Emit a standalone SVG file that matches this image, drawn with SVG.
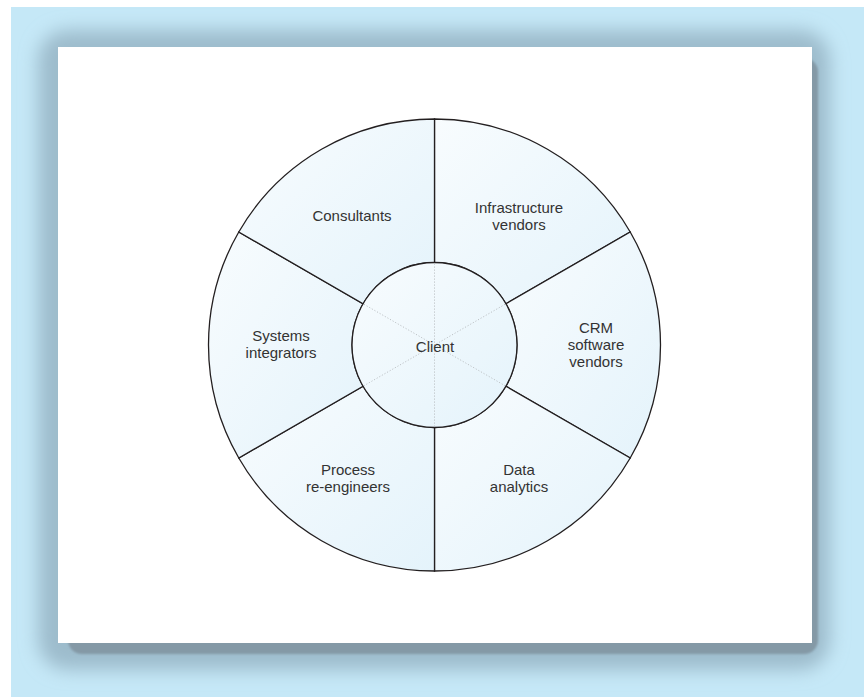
<svg xmlns="http://www.w3.org/2000/svg" width="864" height="697" viewBox="0 0 864 697">
<style>
.seg{fill:url(#segfill);stroke:#231f20;stroke-width:1.3}
.spoke{stroke:#b8bcc0;stroke-width:0.9;stroke-dasharray:1.2 1.8;fill:none}
text{font-family:"Liberation Sans",Arial,sans-serif;font-size:15px;fill:#333333;text-anchor:middle}
</style>
<defs>
<linearGradient id="segfill" x1="0" y1="0" x2="1" y2="1">
<stop offset="0" stop-color="#f8fcfe"/>
<stop offset="1" stop-color="#e4f3fb"/>
</linearGradient>
<filter id="blur" x="-10%" y="-10%" width="120%" height="120%">
<feGaussianBlur stdDeviation="9"/>
</filter>
<filter id="blur2" x="-5%" y="-5%" width="110%" height="110%">
<feGaussianBlur stdDeviation="1"/>
</filter>
</defs>
<rect x="0" y="0" width="864" height="697" fill="#ffffff"/>
<rect x="11" y="7" width="853" height="690" fill="#c5e8f7"/>
<g id="frame">
<rect x="38" y="30" width="792" height="640" rx="30" fill="#9dbccc" filter="url(#blur)"/>
<rect x="68" y="58" width="750" height="596" rx="14" fill="#8499a6" filter="url(#blur2)"/>
<rect x="58" y="47" width="754" height="596" fill="#ffffff"/>
</g>
<g id="infrastructure">
<path class="seg" d="M434.5,119 A226,226 0 0 1 630.22,232 L505.95,303.75 A82.5,82.5 0 0 0 434.5,262.5 Z"/>
<text x="519" y="213">Infrastructure</text>
<text x="519" y="230">vendors</text>
</g>
<g id="crm">
<path class="seg" d="M630.22,232 A226,226 0 0 1 630.22,458 L505.95,386.25 A82.5,82.5 0 0 0 505.95,303.75 Z"/>
<text x="596" y="333">CRM</text>
<text x="596" y="350">software</text>
<text x="596" y="367">vendors</text>
</g>
<g id="data">
<path class="seg" d="M630.22,458 A226,226 0 0 1 434.5,571 L434.5,427.5 A82.5,82.5 0 0 0 505.95,386.25 Z"/>
<text x="519" y="475">Data</text>
<text x="519" y="492">analytics</text>
</g>
<g id="process">
<path class="seg" d="M434.5,571 A226,226 0 0 1 238.78,458 L363.05,386.25 A82.5,82.5 0 0 0 434.5,427.5 Z"/>
<text x="348" y="475">Process</text>
<text x="348" y="492">re-engineers</text>
</g>
<g id="systems">
<path class="seg" d="M238.78,458 A226,226 0 0 1 238.78,232 L363.05,303.75 A82.5,82.5 0 0 0 363.05,386.25 Z"/>
<text x="281" y="341">Systems</text>
<text x="281" y="358">integrators</text>
</g>
<g id="consultants">
<path class="seg" d="M238.78,232 A226,226 0 0 1 434.5,119 L434.5,262.5 A82.5,82.5 0 0 0 363.05,303.75 Z"/>
<text x="352" y="221">Consultants</text>
</g>
<g id="client">
<circle cx="434.5" cy="345" r="82.5" class="seg"/>
<g id="inner-spokes">
<line class="spoke" x1="434.5" y1="263.5" x2="434.5" y2="426.5"/>
<line class="spoke" x1="505" y1="304.3" x2="364" y2="385.7"/>
<line class="spoke" x1="364" y1="304.3" x2="505" y2="385.7"/>
</g>
<text x="435" y="352">Client</text>
</g>
</svg>
